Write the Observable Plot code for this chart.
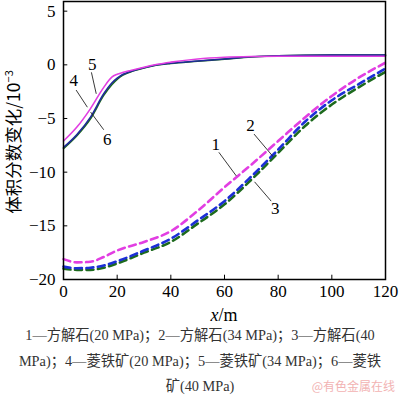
<!DOCTYPE html>
<html>
<head>
<meta charset="utf-8">
<script src="https://cdn.jsdelivr.net/npm/d3@7"></script>
<script src="https://cdn.jsdelivr.net/npm/@observablehq/plot@0.6"></script>
<style>
  body { margin: 0; background: #fff; }
  #wrap { width: 400px; position: relative; font-family: "Liberation Serif", "Noto Sans CJK SC", serif; }
  #chart svg { display: block; }
  #cap { width: 400px; text-align: center; font-size: 14.3px; line-height: 25.5px; color: #333; margin-top: -3px; white-space: nowrap; }
  #wm { position: absolute; right: 5px; top: 377px; font-size: 12px; color: #f2b3b3; font-family: "Noto Sans CJK SC", sans-serif; }
</style>
</head>
<body>
<div id="wrap">
  <div id="chart"></div>
  <div id="cap"></div>
  <div id="wm">@有色金属在线</div>
</div>
<script>
// ---- data ----
const xSolid = [0, 5, 10, 15, 18, 20, 22, 25, 30, 35, 40, 50, 60, 70, 80, 100, 120];
const siderite20 = [-7.1, -5.8, -4.1, -2.1, -1.15, -0.88, -0.72, -0.52, -0.22, 0.05, 0.25, 0.55, 0.7, 0.77, 0.8, 0.8, 0.8];
const siderite34 = [-7.7, -6.5, -4.9, -2.7, -1.7, -1.25, -0.9, -0.62, -0.27, 0.0, 0.15, 0.35, 0.55, 0.75, 0.85, 0.9, 0.9];
const siderite40 = [-7.8, -6.6, -5.05, -2.85, -1.85, -1.35, -0.98, -0.66, -0.3, -0.02, 0.13, 0.33, 0.53, 0.73, 0.85, 0.9, 0.9];

const xDash = [0, 5, 10, 15, 20, 30, 40, 50, 60, 70, 80, 90, 100, 110, 120];
const calcite20 = [-18.1, -18.4, -18.35, -17.9, -17.3, -16.5, -15.5, -13.6, -11.4, -9.3, -7.1, -4.9, -2.9, -1.2, 0.2];
const calcite34 = [-18.8, -18.95, -18.9, -18.7, -18.3, -17.3, -16.2, -14.5, -12.7, -10.4, -7.9, -5.3, -3.3, -1.8, -0.35];
const calcite40 = [-19.0, -19.1, -19.1, -18.9, -18.5, -17.5, -16.5, -14.8, -13.0, -10.7, -8.2, -5.7, -3.7, -2.1, -0.65];

const xTicks = [0, 20, 40, 60, 80, 100, 120];
const yTicks = [-20, -15, -10, -5, 0, 5];

const curveLabels = ["1", "2", "3", "4", "5", "6"];
const labelX = [56.7, 69.7, 78.9, 3.8, 10.7, 16.3];
const labelY = [-7.4, -5.7, -13.4, -1.5, 0.05, -7.0];
const leaderX1 = [57.9, 71.0, 71.2, 4.7, 10.4, 10.1];
const leaderY1 = [-8.15, -6.45, -10.9, -2.35, -0.7, -4.4];
const leaderX2 = [64.4, 78.1, 77.4, 8.9, 12.2, 15.0];
const leaderY2 = [-10.35, -8.55, -12.7, -3.95, -2.7, -6.05];

const caption = [
  "1—方解石(20 MPa)；2—方解石(34 MPa)；3—方解石(40",
  "MPa)；4—菱铁矿(20 MPa)；5—菱铁矿(34 MPa)；6—菱铁",
  "矿(40 MPa)"
];

// ---- build tables ----
const magenta = "#e23ee2", blue = "#1c2fd6", green = "#1d6a1d", navy = "#1f2a9a";
const toRows = (xs, ys, key) => xs.map((x, i) => ({x, y: ys[i], key}));
const solid = [
  ...toRows(xSolid, siderite40, "s40"),
  ...toRows(xSolid, siderite34, "s34"),
  ...toRows(xSolid, siderite20, "s20")
];
const dashed = [
  ...toRows(xDash, calcite40, "c40"),
  ...toRows(xDash, calcite34, "c34"),
  ...toRows(xDash, calcite20, "c20")
];
const colorOf = {s20: magenta, s34: navy, s40: green, c20: magenta, c34: blue, c40: green};
const labels = curveLabels.map((t, i) => ({t, x: labelX[i], y: labelY[i]}));
const leaders = curveLabels.map((t, i) => ({x1: leaderX1[i], y1: leaderY1[i], x2: leaderX2[i], y2: leaderY2[i]}));

const chart = Plot.plot({
  width: 400,
  height: 326,
  marginLeft: 63,
  marginRight: 15,
  marginTop: 1,
  marginBottom: 47,
  style: {fontFamily: "'Liberation Serif', 'Noto Sans CJK SC', serif", fontSize: "17px", color: "#000", background: "#fff"},
  x: {domain: [0, 120], label: null},
  y: {domain: [-20, 5.9], label: null},
  marks: [
    Plot.line(dashed, {x: "x", y: "y", z: "key", stroke: d => colorOf[d.key], strokeWidth: 2.6, strokeDasharray: "7,4.5", curve: "monotone-x"}),
    Plot.line(solid, {x: "x", y: "y", z: "key", stroke: d => colorOf[d.key], strokeWidth: 1.6, curve: "monotone-x"}),
    Plot.link(leaders, {x1: "x1", y1: "y1", x2: "x2", y2: "y2", stroke: "#222", strokeWidth: 0.9}),
    Plot.text(labels, {x: "x", y: "y", text: "t", fontSize: 17, fill: "#000"}),
    Plot.ruleY(yTicks, {x1: 0, x2: 1.6, stroke: "#000", strokeWidth: 1}),
    Plot.ruleX(xTicks, {y1: -20, y2: -19.6, stroke: "#000", strokeWidth: 1}),
    Plot.axisY(yTicks, {tickSize: 0, tickPadding: 8, fontSize: 17, label: null}),
    Plot.axisX(xTicks, {tickSize: 0, tickPadding: 5, fontSize: 17, label: null}),
    Plot.frame({stroke: "#000", strokeWidth: 1.5})
  ]
});

const svg = d3.select(chart);
// axis titles
svg.append("text")
  .attr("transform", "translate(20,142) rotate(-90)")
  .attr("text-anchor", "middle")
  .attr("font-size", 17.5)
  .attr("font-family", "'Noto Sans CJK SC', sans-serif")
  .html('体积分数变化/10<tspan dy="-7" font-size="11">−3</tspan>');
svg.append("text")
  .attr("x", 224).attr("y", 321)
  .attr("text-anchor", "middle")
  .attr("font-size", 18)
  .html('<tspan font-style="italic">x</tspan>/m');

document.getElementById("chart").appendChild(chart);
document.getElementById("cap").innerHTML = caption.join("<br>");
</script>
</body>
</html>
